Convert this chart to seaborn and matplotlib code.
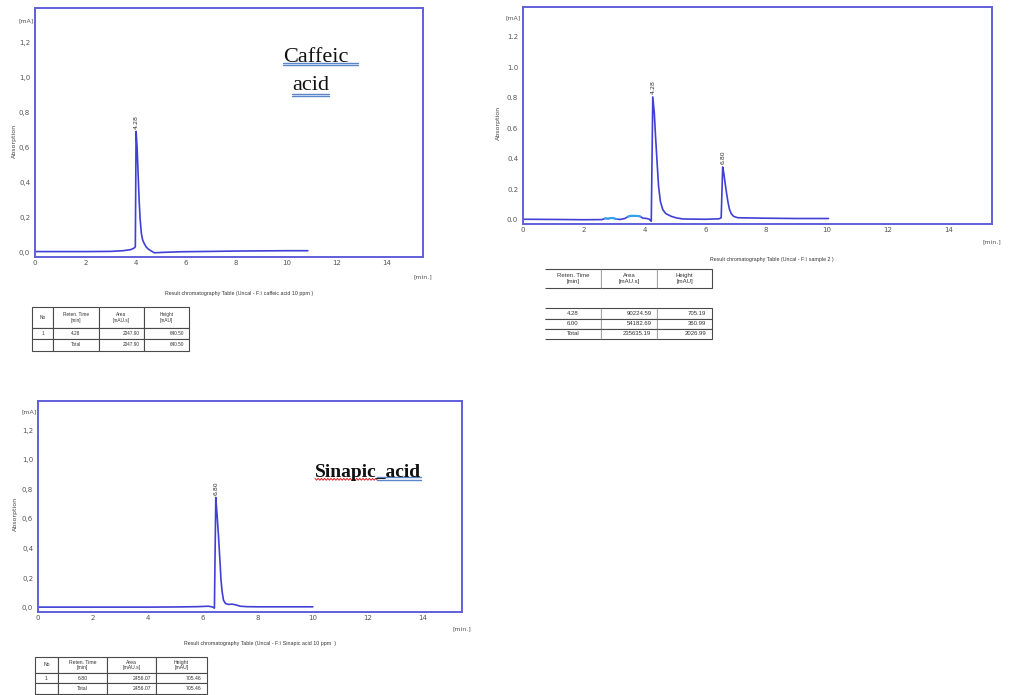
import numpy as np
import pandas as pd
import matplotlib
matplotlib.use("Agg")
import matplotlib.pyplot as plt
import seaborn as sns
from matplotlib.table import Table
from matplotlib.lines import Line2D

# ---------------- data ----------------
caffeic_time = [0.0, 1.0, 2.0, 3.0, 3.5, 3.8, 3.93, 3.99, 4.02, 4.06, 4.1, 4.14, 4.18,
                4.23, 4.28, 4.34, 4.42, 4.5, 4.6, 4.75, 5.0, 5.8, 7.0, 8.0, 9.0,
                10.0, 10.85]
caffeic_abs = [0.003, 0.003, 0.003, 0.004, 0.008, 0.014, 0.022, 0.03, 0.69, 0.6,
               0.45, 0.3, 0.19, 0.107, 0.07, 0.05, 0.03, 0.018, 0.008, -0.004,
               -0.002, 0.002, 0.004, 0.006, 0.007, 0.008, 0.008]

sample2_time = [0.0, 1.0, 2.0, 2.6, 2.7, 2.8, 2.9, 3.0, 3.08, 3.2, 3.35, 3.45, 3.55,
                3.7, 3.85, 3.95, 4.05, 4.15, 4.22, 4.27, 4.32, 4.36, 4.41, 4.46,
                4.52, 4.6, 4.7, 4.88, 5.05, 5.26, 6.0, 6.45, 6.52, 6.57, 6.61, 6.65,
                6.7, 6.74, 6.79, 6.85, 6.93, 7.07, 8.0, 9.0, 10.05]
sample2_abs = [0.003, 0.002, 0.0, 0.001, 0.009, 0.007, 0.011, 0.009, 0.004, 0.002,
               0.008, 0.02, 0.026, 0.026, 0.022, 0.01, 0.009, 0.004, -0.01, 0.806,
               0.7, 0.55, 0.38, 0.22, 0.12, 0.066, 0.04, 0.022, 0.012, 0.005, 0.003,
               0.006, 0.013, 0.346, 0.3, 0.24, 0.17, 0.12, 0.07, 0.04, 0.022, 0.013,
               0.01, 0.008, 0.008]
sample2_cyan_ranges = [(2.7, 3.08), (3.45, 3.85)]

sinapic_time = [0.0, 1.0, 2.0, 3.0, 4.0, 5.0, 5.8, 6.2, 6.35, 6.42, 6.47, 6.52, 6.57,
                6.62, 6.66, 6.7, 6.75, 6.82, 6.93, 7.06, 7.2, 7.36, 7.6, 8.0, 9.0,
                10.0]
sinapic_abs = [0.005, 0.005, 0.005, 0.005, 0.005, 0.006, 0.008, 0.011, 0.006, -0.002,
               0.745, 0.62, 0.48, 0.32, 0.187, 0.11, 0.052, 0.03, 0.023, 0.025, 0.02,
               0.011, 0.008, 0.007, 0.007, 0.007]

caffeic_peaks = [4.02]
caffeic_peak_labels = ["4.28"]
sample2_peaks = [4.27, 6.57]
sample2_peak_labels = ["4.28", "6.80"]
sinapic_peaks = [6.47]
sinapic_peak_labels = ["6.80"]

x_ticks = [0, 2, 4, 6, 8, 10, 12, 14]
y_ticks = [0.0, 0.2, 0.4, 0.6, 0.8, 1.0, 1.2]

caption_caffeic = "Result chromatography Table (Uncal - F:\\ caffeic acid 10 ppm )"
caption_sample2 = "Result chromatography Table (Uncal - F:\\ sample 2 )"
caption_sinapic = "Result chromatography Table (Uncal - F:\\ Sinapic acid 10 ppm  )"

table_header = ["No", "Reten. Time\n[min]", "Area\n[mAU.s]", "Height\n[mAU]"]
caffeic_rows = [["1", "4.28", "2047.90", "640.50"],
                ["", "Total", "2047.90", "640.50"]]
sample2_header = ["Reten. Time\n[min]", "Area\n[mAU.s]", "Height\n[mAU]"]
sample2_rows = [["4.28", "90224.59", "705.19"],
                ["6.00", "54182.69", "360.99"],
                ["Total", "235635.19", "2026.99"]]
sinapic_rows = [["1", "6.80", "2456.07", "705.46"],
                ["", "Total", "2456.07", "705.46"]]

# ---------------- style ----------------
W, H = 1021, 695
TRACE = "#4040d6"
FRAME = "#5f5fdc"
CYAN = "#2aa4ea"
GREY = "#555555"

sns.set_theme(style="white")
plt.rcParams["font.family"] = ["DejaVu Sans"]

fig = plt.figure(figsize=(W / 100, H / 100), dpi=100)
fig.patch.set_facecolor("white")


def px_axes(l, t, r, b):
    return fig.add_axes([l / W, 1 - b / H, (r - l) / W, (b - t) / H])


def px_text(x, y, s, **kw):
    return fig.text(x / W, 1 - y / H, s, **kw)


def px_line(x0, x1, y, color, lw=1.0):
    fig.add_artist(Line2D([x0 / W, x1 / W], [1 - y / H, 1 - y / H],
                          transform=fig.transFigure, color=color, lw=lw))


def panel(box, t, a, peaks, labels, decimal):
    ax = px_axes(*box)
    df = pd.DataFrame({"t": t, "a": a})
    sns.lineplot(data=df, x="t", y="a", ax=ax, color=TRACE, lw=1.2,
                 estimator=None, sort=False)
    for pt, lab in zip(peaks, labels):
        ax.annotate(lab, xy=(pt, np.interp(pt, t, a)), xytext=(0, 2),
                    textcoords="offset points", rotation=90, ha="center",
                    va="bottom", fontsize=4.5, color="#333333")
    ax.set_xlim(0, 15.43)
    ax.set_ylim(-0.028, 1.396)
    ax.set_xticks(x_ticks)
    ax.set_xticklabels([str(v) for v in x_ticks])
    ax.set_yticks(y_ticks)
    ax.set_yticklabels([f"{v:.1f}".replace(".", decimal) for v in y_ticks])
    ax.tick_params(axis="both", length=0, labelsize=5, colors=GREY)
    ax.tick_params(axis="x", pad=2)
    ax.tick_params(axis="y", pad=3.5)
    ax.set_xlabel("")
    ax.set_ylabel("")
    ax.grid(False)
    ax.set_facecolor("white")
    for s in ax.spines.values():
        s.set_visible(True)
        s.set_color(FRAME)
        s.set_linewidth(1.4)
    ax.text(-0.052, 0.465, "Absorption", rotation=90, transform=ax.transAxes,
            ha="center", va="center", fontsize=4.5, color="#444444")
    ax.text(-0.004, 0.95, "[mA]", transform=ax.transAxes, ha="right",
            va="center", fontsize=4.5, color=GREY)
    ax.text(1.0, -0.08, "[min.]", transform=ax.transAxes, ha="center",
            va="center", fontsize=4.5, color=GREY)
    return ax


ax1 = panel((35, 8, 423, 257), caffeic_time, caffeic_abs, caffeic_peaks,
            caffeic_peak_labels, ",")
ax2 = panel((523, 7, 992, 224), sample2_time, sample2_abs, sample2_peaks,
            sample2_peak_labels, ".")
ax3 = panel((38, 401, 462, 612), sinapic_time, sinapic_abs, sinapic_peaks,
            sinapic_peak_labels, ",")

# cyan highlighted baseline pieces in sample 2
df2 = pd.DataFrame({"t": sample2_time, "a": sample2_abs})
for lo, hi in sample2_cyan_ranges:
    seg = df2[(df2.t >= lo) & (df2.t <= hi)]
    sns.lineplot(data=seg, x="t", y="a", ax=ax2, color=CYAN, lw=1.4,
                 estimator=None, sort=False)
ax2.set_xlabel("")
ax2.set_ylabel("")

# captions
cap_kw = dict(ha="center", va="center", fontsize=3.8, color="#333333",
              family=["Liberation Sans", "DejaVu Sans"])
px_text(239, 294, caption_caffeic, **cap_kw)
px_text(772, 260, caption_sample2, **cap_kw)
px_text(260, 643, caption_sinapic, **cap_kw)


# tables
def draw_table(box, col_w, row_h, rows, aligns, fontsize, edges="closed"):
    l, t, r, b = box
    tax = px_axes(l, t, r, b)
    tax.set_axis_off()
    tab = Table(tax, bbox=[0, 0, 1, 1])
    tab.edges = edges
    for i, row in enumerate(rows):
        for j, txt in enumerate(row):
            c = tab.add_cell(i, j, width=col_w[j], height=row_h[i], text=txt,
                             loc=aligns[i][j], edgecolor="#4a4a4a",
                             facecolor="white")
            c.set_linewidth(0.8)
            c.get_text().set_color("#333333")
            c.get_text().set_family(["Liberation Sans", "DejaVu Sans"])
    tab.auto_set_font_size(False)
    tab.set_fontsize(fontsize)
    tax.add_table(tab)


al4_head = ["center"] * 4
al4_body = ["center", "center", "right", "right"]
draw_table((32, 307, 189, 351), [21, 46, 45, 45], [21, 11, 12],
           [table_header] + caffeic_rows, [al4_head, al4_body, al4_body], 3.4)
draw_table((35, 657, 207, 694), [23, 49, 49, 51], [16, 10, 11],
           [table_header] + sinapic_rows, [al4_head, al4_body, al4_body], 3.7)
draw_table((545, 269, 712, 288), [56, 56, 55], [19],
           [sample2_header], [["center"] * 3], 4.3, edges="TBR")
al3_body = ["center", "right", "right"]
draw_table((545, 308, 712, 339), [56, 56, 55], [11, 10, 10],
           sample2_rows, [al3_body] * 3, 4.3, edges="TBR")

# compound names with Word-style underlines
serif = ["Liberation Serif", "DejaVu Serif"]
px_text(283, 61.5, "Caffeic", family=serif, fontsize=16, va="baseline",
        ha="left", color="#111111")
px_text(292, 90, "acid", family=serif, fontsize=16, va="baseline",
        ha="left", color="#111111")
ULBLUE = "#5a85c8"
px_line(283, 358, 62.5, ULBLUE, 1.0)
px_line(283, 358, 65.0, ULBLUE, 1.0)
px_line(292, 329, 93.5, ULBLUE, 1.0)
px_line(292, 329, 95.8, ULBLUE, 1.0)

px_text(315, 477, "Sinapic_acid", family=serif, fontsize=14, weight="bold",
        va="baseline", ha="left", color="#111111")
wx = np.arange(315, 378, 1.6)
wy = 479.3 + np.where(np.arange(len(wx)) % 2 == 0, -0.9, 0.9)
fig.add_artist(Line2D(wx / W, 1 - wy / H, transform=fig.transFigure,
                      color="#e02020", lw=0.7))
px_line(377, 421, 477.0, ULBLUE, 1.0)
px_line(377, 421, 480.0, ULBLUE, 1.0)

fig.savefig("out.png", dpi=100, facecolor="white")
